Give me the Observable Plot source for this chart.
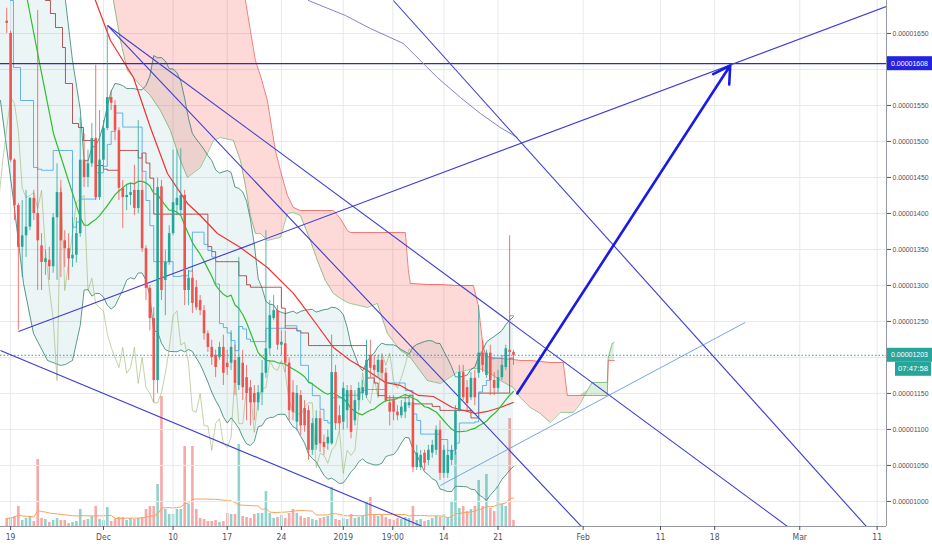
<!DOCTYPE html>
<html><head><meta charset="utf-8">
<script src="https://cdn.jsdelivr.net/npm/d3@7"></script>
<script src="https://cdn.jsdelivr.net/npm/@observablehq/plot@0.6"></script>
<style>
body{margin:0;background:#fff;}
#wrap{position:relative;width:932px;height:550px;overflow:hidden;}
#wrap svg{position:absolute;left:0;top:0;}
</style>
</head><body><div id="wrap"></div>
<script>
// ---- 12h candles (prices in satoshi, 1e-8), first candle Nov 18 12:00 ----
const FIRST_T = -0.5, STEP = 0.5; // days from Nov 19
const opens = [1667,1650,1474,1411,1353,1369,1381,1421,1400,1355,
1332,1335,1326,1394,1429,1362,1351,1337,1342,1372,
1474,1450,1469,1504,1422,1474,1518,1561,1550,1515,
1435,1422,1425,1432,1407,1432,1351,1296,1254,1168,
1437,1307,1332,1372,1411,1404,1425,1293,1310,1297,
1279,1265,1233,1214,1203,1200,1214,1192,1192,1196,
1161,1192,1172,1158,1150,1137,1151,1178,1212,1254,
1265,1217,1219,1192,1151,1110,1147,1129,1126,1071,
1078,1115,1082,1080,1080,1179,1119,1110,1126,1154,
1112,1140,1150,1147,1203,1189,1179,1196,1178,1137,
1140,1124,1119,1124,1133,1137,1047,1047,1067,1057,
1067,1071,1099,1039,1039,1057,1071,1126,1179,1158,
1144,1171,1178,1206,1175,1206,1168,1157,1172,1186,
1210,1207];
const highs = [1685,1653,1476,1414,1418,1432,1422,1432,1682,1372,
1349,1353,1400,1469,1446,1376,1372,1394,1394,1533,
1511,1488,1525,1606,1543,1529,1661,1571,1557,1519,
1446,1439,1442,1467,1529,1483,1355,1300,1269,1449,
1446,1349,1383,1488,1488,1490,1432,1321,1322,1307,
1286,1272,1237,1224,1210,1221,1231,1210,1237,1217,
1339,1210,1189,1168,1161,1161,1196,1376,1279,1286,
1272,1237,1237,1199,1168,1161,1154,1140,1133,1115,
1126,1126,1092,1099,1231,1189,1133,1165,1161,1161,
1154,1165,1168,1224,1224,1203,1203,1203,1185,1147,
1147,1133,1140,1147,1143,1143,1078,1071,1071,1078,
1085,1105,1112,1078,1071,1078,1133,1189,1189,1168,
1179,1182,1272,1224,1210,1217,1179,1182,1199,1217,
1369,1210];
const lows = [1650,1471,1390,1238,1311,1339,1376,1390,1293,1293,
1314,1307,1317,1307,1311,1325,1307,1325,1331,1367,
1436,1436,1464,1418,1418,1460,1515,1543,1501,1418,
1379,1404,1411,1397,1400,1346,1279,1237,1137,1150,
1279,1258,1328,1369,1397,1397,1272,1272,1261,1265,
1258,1224,1207,1189,1172,1196,1161,1175,1182,1147,
1154,1140,1112,1105,1112,1126,1133,1171,1203,1251,
1210,1203,1179,1112,1112,1098,1092,1096,1057,1064,
1071,1068,1064,1071,1078,1099,1099,1099,1101,1087,
1105,1126,1140,1143,1171,1171,1171,1168,1137,1105,
1112,1112,1115,1115,1129,1040,1043,1043,1043,1050,
1060,1064,1029,1032,1032,1050,1064,1124,1140,1126,
1140,1133,1171,1179,1171,1147,1147,1151,1168,1182,
1196,1189];
const closes = [1664,1474,1411,1353,1369,1381,1421,1400,1362,1332,
1337,1326,1394,1429,1362,1351,1337,1342,1372,1474,
1450,1469,1504,1422,1474,1518,1561,1553,1515,1435,
1422,1425,1429,1407,1432,1351,1296,1254,1168,1436,
1293,1332,1372,1415,1421,1425,1293,1310,1275,1269,
1265,1233,1214,1200,1186,1214,1178,1186,1214,1164,
1200,1158,1150,1137,1137,1151,1178,1212,1258,1265,
1217,1221,1192,1126,1124,1150,1105,1105,1071,1108,
1115,1080,1075,1089,1179,1108,1108,1157,1154,1096,
1140,1157,1158,1196,1185,1182,1196,1178,1140,1124,
1124,1119,1131,1137,1137,1047,1067,1064,1053,1071,
1078,1099,1039,1071,1064,1071,1126,1179,1144,1136,
1171,1144,1206,1189,1206,1168,1157,1172,1189,1212,
1207,1203];
const volumes = [8,9,10,20,6,8,10,5,67,8,
7,4,6,8,6,6,3,4,5,17,
6,7,10,20,7,6,19,5,7,9,
9,6,8,7,8,9,17,20,20,42,
130,17,12,12,17,17,80,22,80,17,
8,7,5,5,6,4,5,13,12,12,
82,10,9,8,12,13,13,35,13,8,
9,11,8,13,17,13,10,8,9,7,
6,8,9,10,39,7,6,8,7,12,
8,9,10,25,29,12,10,11,9,7,
6,8,7,9,8,20,6,7,5,6,
8,10,9,12,8,24,75,18,20,15,
17,20,46,20,52,18,15,40,22,20,
108,6];
const currentPrice = 1203;
const targetLevel = 1608;

// ---- traced indicator segments (day offset, price) ----
const redMaT = [9.03,10.97,12.91,15.88,18.07,20.27,22.86,24.53,26.73,29.70,33.19,36.55,37.45,39.65,41.72,43.91,46.11,48.44,50.37,52.70,54.64,57.09,60.06,61.61,63.29,64.97];
const redMaP = [1737.5,1695.8,1640.2,1588.9,1519.4,1455.5,1413.9,1397.2,1372.2,1352.7,1325,1288.9,1276.4,1244.4,1213.9,1195.8,1181.9,1165.2,1161.1,1147.2,1145.8,1130.5,1122.2,1125,1130.5,1137.5];
const greenEarlyT = [1.28,2.18,3.86,5.54,7.35];
const greenEarlyP = [1723.6,1695.8,1602.7,1511.1,1450];
const bbEarlyT = [-1.31,0.37,1.67,2.96,4.77,5.80,6.45,7.09,8.00];
const bbEarlyLower = [1556.9,1418.0,1302.7,1233.3,1195.8,1191.6,1188.9,1190.2,1195.8];
const bbEarlyUpper = [1751.4,1751.4,1751.4,1751.4,1751.4,1723.6,1706.9,1695.8,1612.5];
const tenkanEarlyT = [-0.01,0.37,1.28,2.96];
const tenkanEarlyP = [1695.8,1602.7,1556.9,1463.9];
const kijunEarlyT = [3.86,4.51,5.15,5.80,6.71,7.09,8.00,8.77,9.42,10.97];
const kijunEarlyP = [1702.7,1695.8,1677.7,1658.3,1630.5,1580.5,1525,1519.4,1501.4,1466.6];
const cloudT = [12.26,13.29,14.20,15.10,16.78,18.07,19.37,20.66,21.95,22.86,
24.53,25.44,26.21,27.12,28.80,29.70,30.35,30.99,31.64,32.29,
33.19,34.22,34.87,35.78,36.55,37.45,38.75,39.65,40.68,41.72,
42.62,43.53,43.91,46.11,47.40,48.70,50.37,51.02,51.41,51.67,
53.86,55.54,57.74,59.81,60.45,60.97,61.36,62.00,63.29,64.97,
65.88,67.17,68.46,69.75,71.05,71.43,71.95,72.73,73.63,74.53,
75.18,77.12,77.25,77.76,78.02];
const leadA = [1737.5,1695.8,1640.2,1598.6,1577.7,1563.9,1543.0,1515.2,1473.6,1450.0,
1463.9,1483.3,1501.4,1505.5,1501.4,1473.6,1438.9,1397.2,1372.2,1372.2,
1362.5,1365.2,1366.6,1400.0,1401.4,1397.2,1362.5,1334.7,1306.9,1288.9,
1281.9,1276.4,1275.0,1269.4,1275.0,1233.3,1209.7,1205.5,1201.3,1199.9,
1168.0,1163.8,1179.1,1184.7,1184.7,1183.3,1180.5,1177.7,1168.0,1158.3,
1144.4,1130.5,1122.2,1109.7,1123.6,1123.6,1123.6,1123.6,1136.1,1154.1,
1165.3,1165.3,1200.0,1219.4,1220.8];
const leadB = [1751.4,1751.4,1751.4,1751.4,1751.4,1751.4,1751.4,1751.4,1751.4,1751.4,
1751.4,1751.4,1751.4,1751.4,1737.5,1716.6,1695.8,1654.1,1612.5,1591.6,
1556.9,1487.5,1459.7,1425.0,1408.3,1404.1,1404.1,1404.1,1404.1,1404.1,
1393.0,1376.4,1373.6,1373.6,1373.6,1373.6,1373.6,1373.6,1320.8,1302.7,
1301.3,1301.3,1299.9,1299.9,1272.2,1223.6,1202.8,1200.0,1198.6,1197.2,
1195.8,1195.8,1194.4,1193.0,1193.0,1193.0,1147.2,1147.2,1147.2,1147.2,
1147.2,1147.2,1195.8,1195.8,1195.8];

// ---- drawings ----
const trendX1 = [1.02,12.52,12.52,-1.31,49.47];
const trendY1 = [1236.1,1661.1,1661.1,1209.7,1695.8];
const trendX2 = [113.21,100.76,74.02,53.09,110.84];
const trendY2 = [1687.5,962.5,962.5,965.9,962.5];
const thinLineT = [55.54,94.95];
const thinLineP = [1022.2,1248.6];
const pathT = [38.49,43.27,46.50,50.76,55.15,58.13,60.71,63.29,65.49];
const pathP = [1695.8,1675.0,1656.9,1636.1,1588.9,1561.1,1538.9,1519.4,1505.5];
const arrowT = [65.49,93.01];
const arrowP = [1150.0,1605.5];

// ---- axes ----
const xTickT = [0,12,21,28,35,43,49.4,56,63,74,84,91,102,112];
const xTickLabels = ["19","Dec","10","17","24","2019","19:00","14","21","Feb","11","18","Mar","11"];
const yGrid = [1000,1050,1100,1150,1200,1250,1300,1350,1400,1450,1500,1550,1600,1650];
const yLabels = [1000,1050,1100,1150,1250,1300,1350,1400,1450,1500,1550,1650];

const UP = "#26a69a", DOWN = "#ef5350";
const X_DOMAIN = [-1.305, 113.21];
const Y_DOMAIN = [965.2, 1695.8];
const common = {width: 932, height: 550, marginLeft: 0, marginRight: 46, marginTop: 0, marginBottom: 24};
const FONT = "'Liberation Sans Narrow','DejaVu Sans Condensed','Liberation Sans',Arial,sans-serif";
const PRICE_FONT = "'Liberation Sans',Arial,sans-serif";
const priceFmt = d => (d * 1e-8).toFixed(8);

const N = closes.length;
const candles = closes.map((c, i) => ({t: FIRST_T + i * STEP, o: opens[i], h: highs[i], l: lows[i], c, v: volumes[i]}));
const col = d => d.c >= d.o ? UP : DOWN;

// Bollinger (20, 2)
const bbComputed = [];
for (let i = 19; i < N; i++) {
  const w = closes.slice(i - 19, i + 1);
  const m = d3.mean(w);
  const sd = Math.sqrt(d3.mean(w, v => (v - m) ** 2));
  bbComputed.push({t: candles[i].t, mid: m, up: m + 2 * sd, lo: m - 2 * sd});
}
const bbAll = bbEarlyT.map((t, i) => ({t, lo: bbEarlyLower[i], up: bbEarlyUpper[i]})).concat(bbComputed);
const greenAll = greenEarlyT.map((t, i) => ({t, v: greenEarlyP[i]})).concat(bbComputed.map(d => ({t: d.t, v: d.mid})));

function donchian(n) {
  const out = [];
  for (let i = n - 1; i < N; i++) {
    out.push({t: candles[i].t, v: (d3.max(highs.slice(i - n + 1, i + 1)) + d3.min(lows.slice(i - n + 1, i + 1))) / 2});
  }
  return out;
}
const tenkan = tenkanEarlyT.map((t, i) => ({t, v: tenkanEarlyP[i]})).concat(donchian(9));
const kijun = kijunEarlyT.map((t, i) => ({t, v: kijunEarlyP[i]})).concat(donchian(26));
const chikou = candles.map(d => ({t: d.t - 25 * STEP, v: d.c}));
const redMa = redMaT.map((t, i) => ({t, v: redMaP[i]}));
const cloud = cloudT.map((t, i) => ({t, a: leadA[i], b: leadB[i]}));
const volMA = candles.map((d, i) => ({t: d.t, v: d3.mean(volumes.slice(Math.max(0, i - 19), i + 1))}));
const trends = trendX1.map((x, i) => ({x1: x, y1: trendY1[i], x2: trendX2[i], y2: trendY2[i]}));
const thinLine = [{x1: thinLineT[0], y1: thinLineP[0], x2: thinLineT[1], y2: thinLineP[1]}];
const purplePath = pathT.map((t, i) => ({t, v: pathP[i]}));
const arrowData = [{x1: arrowT[0], y1: arrowP[0], x2: arrowT[1], y2: arrowP[1]}];
const labelMap = new Map(xTickT.map((t, i) => [t, xTickLabels[i]]));

// volume pane (own scale) underneath
const volPlot = Plot.plot({
  ...common,
  style: {background: "transparent"},
  x: {domain: X_DOMAIN, axis: null},
  y: {domain: [0, 526], axis: null},
  marks: [
    Plot.ruleX(candles, {x: "t", y1: 0, y2: "v", stroke: col, strokeOpacity: 0.5, strokeWidth: 2.6}),
    Plot.line(volMA, {x: "t", y: "v", stroke: "#f7a35c", strokeWidth: 1})
  ]
});

const main = Plot.plot({
  ...common,
  style: {background: "transparent", fontFamily: FONT, fontSize: "8.5px", color: "#50535e"},
  x: {domain: X_DOMAIN},
  y: {domain: Y_DOMAIN},
  marks: [
    Plot.gridY(yGrid, {stroke: "#e6e9f0", strokeOpacity: 1}),
    Plot.gridX(xTickT, {stroke: "#e6e9f0", strokeOpacity: 1}),
    Plot.areaY(bbAll, {x: "t", y1: "lo", y2: "up", fill: "#138484", fillOpacity: 0.08, clip: true}),
    Plot.areaY(cloud, {x: "t", y1: "a", y2: d => Math.max(d.a, d.b), fill: "#f44336", fillOpacity: 0.2, clip: true}),
    Plot.areaY(cloud, {x: "t", y1: "b", y2: d => Math.max(d.a, d.b), fill: "#4caf50", fillOpacity: 0.2, clip: true}),
    Plot.line(cloud, {x: "t", y: "a", stroke: "#43a047", strokeOpacity: 0.55, strokeWidth: 1, clip: true}),
    Plot.line(cloud, {x: "t", y: "b", stroke: "#ef5350", strokeOpacity: 0.75, strokeWidth: 1, clip: true}),
    Plot.line(bbAll, {x: "t", y: "up", stroke: "#2f7f6d", strokeOpacity: 0.8, strokeWidth: 1, clip: true}),
    Plot.line(bbAll, {x: "t", y: "lo", stroke: "#2f7f6d", strokeOpacity: 0.8, strokeWidth: 1, clip: true}),
    Plot.line(chikou, {x: "t", y: "v", stroke: "#94ad66", strokeOpacity: 0.55, strokeWidth: 1, clip: true}),
    Plot.line(kijun, {x: "t", y: "v", stroke: "#991515", strokeOpacity: 0.7, strokeWidth: 1, curve: "step-after", clip: true}),
    Plot.line(tenkan, {x: "t", y: "v", stroke: "#4ba6ea", strokeOpacity: 0.85, strokeWidth: 1, curve: "step-after", clip: true}),
    Plot.line(redMa, {x: "t", y: "v", stroke: "#f23030", strokeWidth: 1.2, clip: true}),
    Plot.line(greenAll, {x: "t", y: "v", stroke: "#2fbf2f", strokeWidth: 1.2, clip: true}),
    Plot.ruleY([currentPrice], {stroke: UP, strokeDasharray: "1.5,2"}),
    Plot.ruleY([targetLevel], {stroke: "#2a2ad4", strokeWidth: 1.3}),
    Plot.line(purplePath, {x: "t", y: "v", stroke: "#8a80c8", strokeWidth: 1, clip: true}),
    Plot.link(trends, {x1: "x1", y1: "y1", x2: "x2", y2: "y2", stroke: "#3d3dd1", strokeWidth: 1.1, clip: true}),
    Plot.link(thinLine, {x1: "x1", y1: "y1", x2: "x2", y2: "y2", stroke: "#6a9be0", strokeWidth: 0.9, clip: true}),
    Plot.ruleX(candles, {x: "t", y1: "l", y2: "h", stroke: col, strokeWidth: 0.8}),
    Plot.ruleX(candles, {x: "t", y1: "o", y2: d => Math.abs(d.c - d.o) < 1.4 ? d.o + (d.c >= d.o ? 1.4 : -1.4) : d.c, stroke: col, strokeWidth: 2.6}),
    Plot.arrow(arrowData, {x1: "x1", y1: "y1", x2: "x2", y2: "y2", stroke: "#1a1ae6", strokeWidth: 2.6, headLength: 11}),
    Plot.ruleX([X_DOMAIN[1]], {stroke: "#9598a1"}),
    Plot.ruleY([Y_DOMAIN[0]], {stroke: "#9598a1"}),
    Plot.axisY(yLabels, {anchor: "right", tickFormat: priceFmt, tickSize: 4, tickPadding: 2, label: null, fontSize: 7.3}),
    Plot.axisX(xTickT, {anchor: "bottom", tickFormat: d => labelMap.get(d), tickSize: 4, tickPadding: 3, label: null})
  ]
});

const wrap = document.getElementById("wrap");
wrap.appendChild(volPlot);
wrap.appendChild(main);

const svg = d3.select(main);
// compact right-axis price labels so they fit the narrow scale area
svg.selectAll("text").filter(function () { return this.textContent.startsWith("0.0000"); })
  .attr("font-family", PRICE_FONT).attr("font-size", "7.3px")
  .attr("textLength", 36).attr("lengthAdjust", "spacingAndGlyphs");

// price tags on the right axis
const ysc = main.scale("y");
const frameRight = common.width - common.marginRight;
function tag(price, bg, text, dyOff, x0, w, len) {
  const y = ysc.apply(price) + dyOff;
  svg.append("rect").attr("x", x0).attr("y", y - 7).attr("width", w).attr("height", 14).attr("fill", bg);
  svg.append("text").attr("x", x0 + w / 2).attr("y", y).attr("dy", "0.35em").attr("text-anchor", "middle")
    .attr("fill", "#fff").attr("font-family", PRICE_FONT).attr("font-size", "7.3px")
    .attr("textLength", len).attr("lengthAdjust", "spacingAndGlyphs").text(text);
}
tag(targetLevel, "#2323e0", priceFmt(targetLevel), 0, frameRight + 1, 45, 37);
tag(currentPrice, UP, priceFmt(currentPrice), 0, frameRight + 1, 45, 37);
tag(currentPrice, UP, "07:47:58", 14, frameRight + 9, 36, 30);
</script></body></html>
